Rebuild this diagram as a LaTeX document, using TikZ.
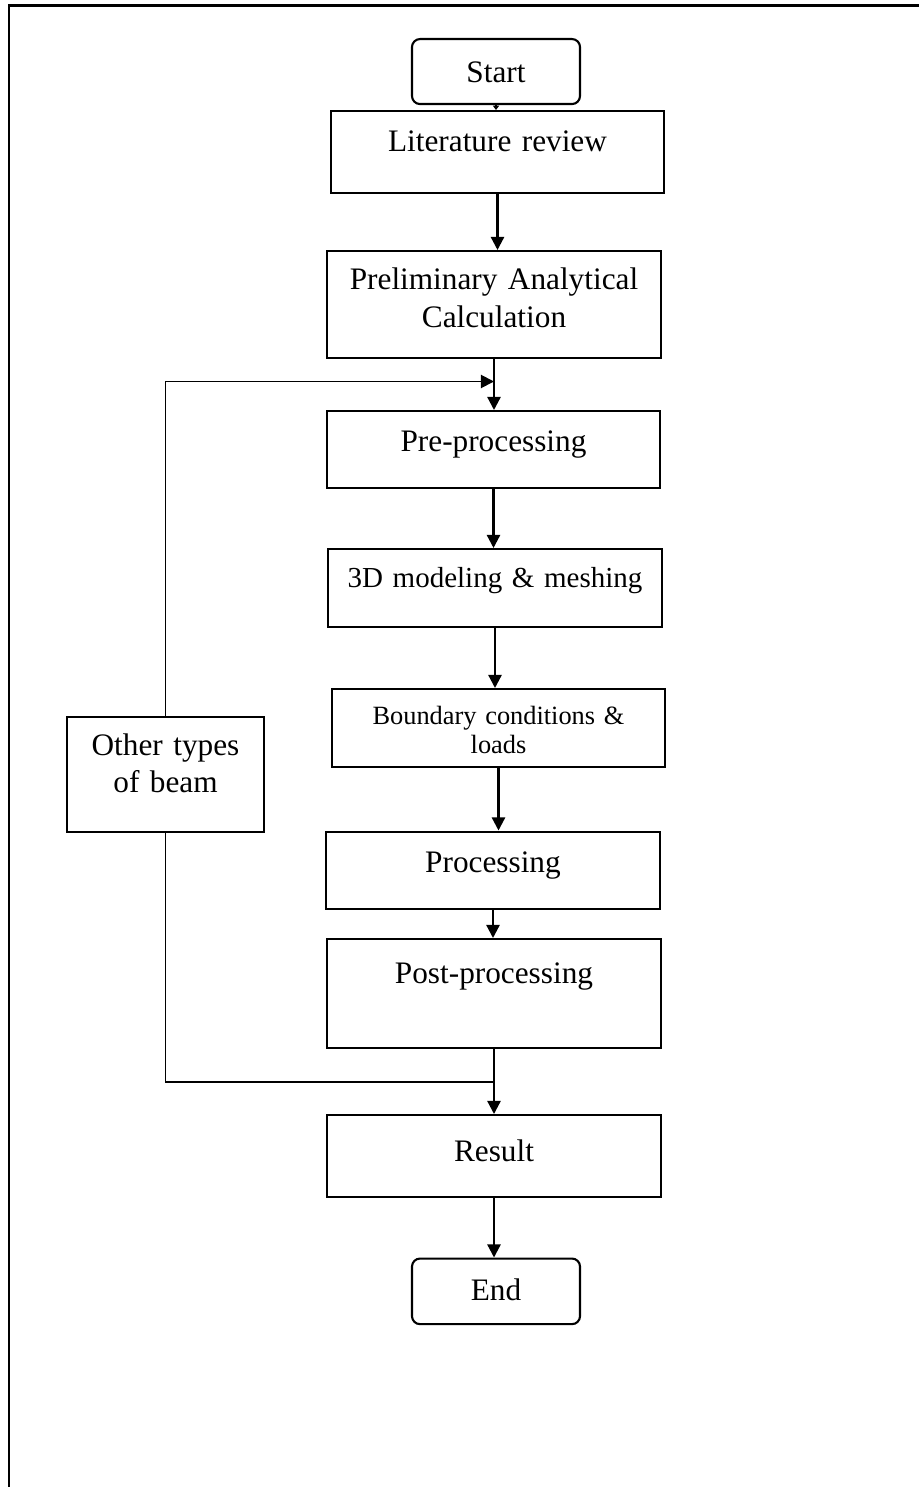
\documentclass[tikz,border=0pt]{standalone}
\usepackage{fontspec}
\setmainfont{Liberation Serif}
\usetikzlibrary{arrows.meta,calc}
\tikzset{
  procbox/.style={draw, line width=1.2pt, text width=#1, align=center,
    inner sep=0pt, anchor=north, font=\fontsize{17.8}{21.9}\selectfont},
  procbox/.default={6.67cm},
  termbox/.style={procbox=3.36cm, rounded corners=0.16cm},
  flowarr/.style={-{Triangle[length=7.5pt,width=7.5pt]}, line width=1.3pt},
  tinyarr/.style={-{Triangle[length=2.5pt,width=3.5pt]}, line width=0.8pt},
  loopline/.style={line width=1.1pt},
}
\begin{document}
\begin{tikzpicture}
  \useasboundingbox (0,0) rectangle (18.38,-29.74);
  % page frame
  \draw[line width=1.2pt] (0.18,-29.74) -- (0.18,-0.11) -- (18.38,-0.11);

  \node[termbox, text height=0.874cm, text depth=0.426cm] (start) at (9.92,-0.76) {Start};
  \node[procbox=6.66cm, text height=0.8cm, text depth=0.84cm] (lit) at (9.95,-2.2)
    {Literature review};
  \node[procbox, text height=0.76cm, text depth=1.38cm] (prelim) at (9.88,-5.0)
    {Preliminary Analytical\\Calculation};
  \node[procbox, text height=0.8cm, text depth=0.74cm] (pre) at (9.87,-8.2)
    {Pre-processing};
  \node[procbox, text height=0.76cm, text depth=0.8cm,
    font=\fontsize{16.5}{19}\selectfont] (model) at (9.9,-10.96)
    {3D modeling \& meshing};
  \node[procbox=6.66cm, text height=0.706cm, text depth=0.854cm,
    font=\fontsize{15}{16.7}\selectfont] (bc) at (9.97,-13.76)
    {Boundary conditions \&\\loads};
  \node[procbox=6.68cm, text height=0.82cm, text depth=0.72cm] (proc) at (9.86,-16.61)
    {Processing};
  \node[procbox=6.68cm, text height=0.88cm, text depth=1.306cm] (post) at (9.88,-18.76)
    {Post-processing};
  \node[procbox=6.68cm, text height=0.92cm, text depth=0.72cm] (result) at (9.88,-22.28)
    {Result};
  \node[termbox, text height=0.846cm, text depth=0.466cm] (end) at (9.92,-25.15) {End};
  \node[procbox=3.93cm, text height=0.786cm, text depth=1.514cm,
    font=\fontsize{17.8}{20.9}\selectfont] (other) at (3.31,-14.31)
    {Other types\\of beam};

  % main flow
  \draw[tinyarr] (start.south) -- (start.south |- lit.north);
  \draw[flowarr] (lit.south) -- (lit.south |- prelim.north);
  \coordinate (joinA) at ($(prelim.south)!0.44!(prelim.south |- pre.north)$);
  \draw[flowarr] (prelim.south) -- (prelim.south |- pre.north);
  \draw[flowarr] (pre.south) -- (pre.south |- model.north);
  \draw[flowarr] (model.south) -- (model.south |- bc.north);
  \draw[flowarr] (bc.south) -- (bc.south |- proc.north);
  \draw[flowarr] (proc.south) -- (proc.south |- post.north);
  \coordinate (joinB) at ($(post.south)!0.5!(post.south |- result.north)$);
  \draw[flowarr] (post.south) -- (post.south |- result.north);
  \draw[flowarr] (result.south) -- (result.south |- end.north);

  % loop for other beams
  \draw[flowarr, line width=1.1pt] (other.north) |- (joinA);
  \draw[loopline] (other.south) |- (joinB);
\end{tikzpicture}
\end{document}
